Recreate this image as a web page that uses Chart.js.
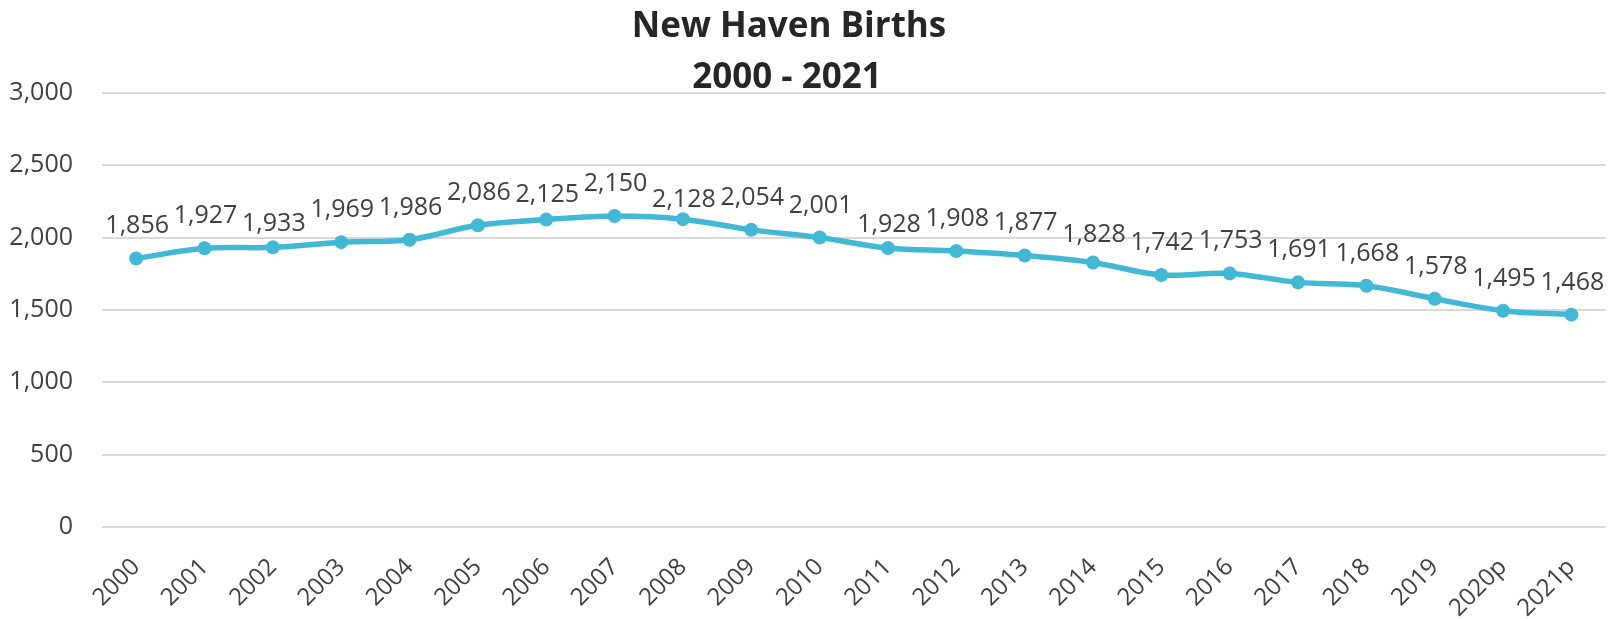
<!DOCTYPE html>
<html>
<head>
<meta charset="utf-8">
<title>New Haven Births 2000 - 2021</title>
<script src="https://cdn.jsdelivr.net/npm/chart.js@4/dist/chart.umd.min.js"></script>
<style>
  html, body { margin: 0; padding: 0; background: #ffffff; }
  #wrap { width: 1618px; height: 619px; }
</style>
</head>
<body>
<div id="wrap"><canvas id="births" width="1618" height="619"></canvas></div>
<script>
// Birth counts by year (p = provisional)
const years = ['2000', '2001', '2002', '2003', '2004', '2005', '2006', '2007', '2008', '2009', '2010',
               '2011', '2012', '2013', '2014', '2015', '2016', '2017', '2018', '2019', '2020p', '2021p'];
const births = [1856, 1927, 1933, 1969, 1986, 2086, 2125, 2150, 2128, 2054, 2001,
                1928, 1908, 1877, 1828, 1742, 1753, 1691, 1668, 1578, 1495, 1468];
const titleLines = ['New Haven Births', '2000 - 2021'];
const yTicks = [0, 500, 1000, 1500, 2000, 2500, 3000];

// small vertical nudges (px) for value labels that sit closer to the line
const labelNudge = [0, 0, 9, 0, 0, 0, 7, 0, 13, 0, 0,
                    9, 0, 0, 4, 0, 0, 0, 0, 0, 0, 0];

const fmt = v => v.toLocaleString('en-US');
const textColor = '#404040';
const lineColor = '#41B9D5';
const fontFamily = '"Open Sans", "DejaVu Sans", sans-serif';

const titlePlugin = {
  id: 'twoLineTitle',
  afterDraw(chart) {
    const ctx = chart.ctx;
    ctx.save();
    ctx.fillStyle = '#262626';
    ctx.font = 'bold 35px ' + fontFamily;
    ctx.textAlign = 'center';
    ctx.textBaseline = 'alphabetic';
    ctx.fillText(titleLines[0], 789, 37);
    ctx.fillText(titleLines[1], 787, 88);
    ctx.restore();
  }
};

const valueLabels = {
  id: 'valueLabels',
  afterDatasetsDraw(chart) {
    const ctx = chart.ctx;
    const meta = chart.getDatasetMeta(0);
    const data = chart.data.datasets[0].data;
    ctx.save();
    ctx.fillStyle = textColor;
    ctx.font = '25px ' + fontFamily;
    ctx.textAlign = 'center';
    ctx.textBaseline = 'alphabetic';
    meta.data.forEach((pt, i) => {
      ctx.fillText(fmt(data[i]), pt.x + 1, pt.y - 25 + labelNudge[i]);
    });
    ctx.restore();
  }
};

new Chart(document.getElementById('births'), {
  type: 'line',
  data: {
    labels: years,
    datasets: [{
      label: 'Births',
      data: births,
      borderColor: lineColor,
      backgroundColor: lineColor,
      borderWidth: 5.5,
      pointRadius: 7,
      pointBackgroundColor: lineColor,
      pointBorderWidth: 0,
      tension: 0.35,
      fill: false
    }]
  },
  options: {
    responsive: false,
    animation: false,
    devicePixelRatio: 1,
    layout: { padding: { top: 93, right: 10, left: 0, bottom: 0 } },
    plugins: {
      legend: { display: false },
      title: { display: false },
      tooltip: { enabled: false }
    },
    scales: {
      x: {
        offset: true,
        grid: { display: false, drawTicks: false },
        border: { display: false },
        ticks: {
          color: textColor,
          font: { family: fontFamily, size: 24 },
          maxRotation: 45,
          minRotation: 45,
          padding: 26,
          autoSkip: false
        },
        afterFit(axis) { axis.height = 92; }
      },
      y: {
        min: 0,
        max: 3000,
        afterBuildTicks(axis) { axis.ticks = yTicks.map(v => ({ value: v })); },
        grid: { color: '#d9d9d9', lineWidth: 2, drawTicks: false },
        border: { display: false },
        ticks: {
          color: textColor,
          font: { family: fontFamily, size: 25 },
          padding: 29,
          callback: v => fmt(v)
        },
        afterFit(axis) { axis.width = 102; }
      }
    }
  },
  plugins: [titlePlugin, valueLabels]
});
</script>
</body>
</html>
